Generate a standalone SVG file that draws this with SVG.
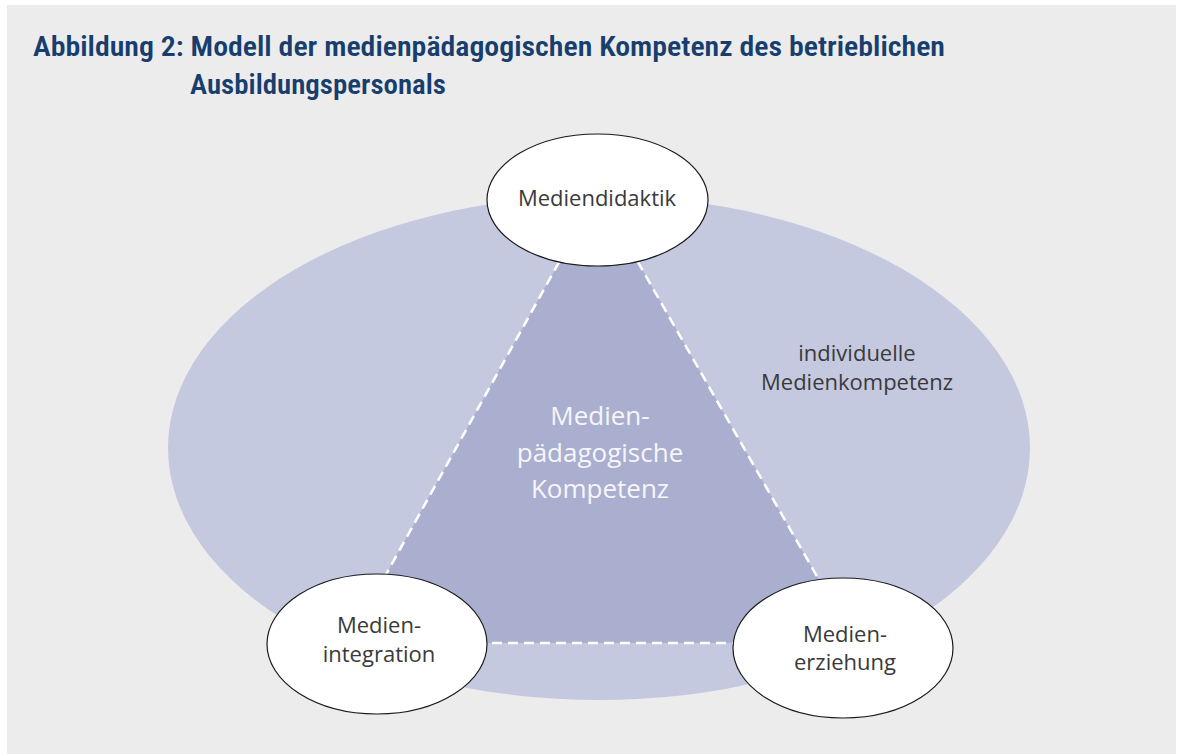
<svg xmlns="http://www.w3.org/2000/svg" width="1177" height="754" viewBox="0 0 1177 754">
<style>
.node{fill:#ffffff;stroke:#1a1a1a;stroke-width:1.2}
.lbl{font-family:"Open Sans","Noto Sans","Liberation Sans",sans-serif;font-size:22px;fill:#3a3a3a;text-anchor:middle}
.ctr{font-family:"Open Sans","Noto Sans","Liberation Sans",sans-serif;font-size:26px;fill:#f6f6fa;text-anchor:middle}
.title{font-family:"Liberation Sans Narrow","Roboto Condensed","Open Sans","Liberation Sans",sans-serif;font-weight:600;font-size:27px;fill:#173e6d}
.dash{stroke:#ffffff;stroke-width:2.5;stroke-dasharray:10 6;fill:none}
</style>
<rect x="0" y="0" width="1177" height="754" fill="#ffffff"/>
<rect x="7" y="5" width="1169" height="749" fill="#ececec"/>
<text class="title" x="33" y="56" textLength="912" lengthAdjust="spacingAndGlyphs">Abbildung 2: Modell der medienpädagogischen Kompetenz des betrieblichen</text>
<text class="title" x="190" y="94" textLength="256" lengthAdjust="spacingAndGlyphs">Ausbildungspersonals</text>
<g id="medienkompetenz">
<ellipse cx="599" cy="448" rx="431" ry="252" fill="#c5c9df"/>
<text class="lbl" x="857" y="361">individuelle</text>
<text class="lbl" x="857" y="390">Medienkompetenz</text>
</g>
<g id="kompetenz">
<polygon points="598,192 348,643 855,643" fill="#abafcf"/>
<text class="ctr" x="600" y="425">Medien-</text>
<text class="ctr" x="600" y="462">pädagogische</text>
<text class="ctr" x="600" y="498">Kompetenz</text>
</g>
<g id="connectors">
<line class="dash" x1="598" y1="192" x2="348" y2="643"/>
<line class="dash" x1="598" y1="192" x2="855" y2="643"/>
<line class="dash" x1="348" y1="643" x2="855" y2="643"/>
</g>
<g id="mediendidaktik">
<ellipse class="node" cx="597.5" cy="200" rx="110.5" ry="66"/>
<text class="lbl" x="597" y="206">Mediendidaktik</text>
</g>
<g id="medienintegration">
<ellipse class="node" cx="377" cy="644" rx="110" ry="70"/>
<text class="lbl" x="379" y="633">Medien-</text>
<text class="lbl" x="379" y="662">integration</text>
</g>
<g id="medienerziehung">
<ellipse class="node" cx="843" cy="648" rx="110" ry="70"/>
<text class="lbl" x="845" y="642">Medien-</text>
<text class="lbl" x="845" y="670">erziehung</text>
</g>
</svg>
